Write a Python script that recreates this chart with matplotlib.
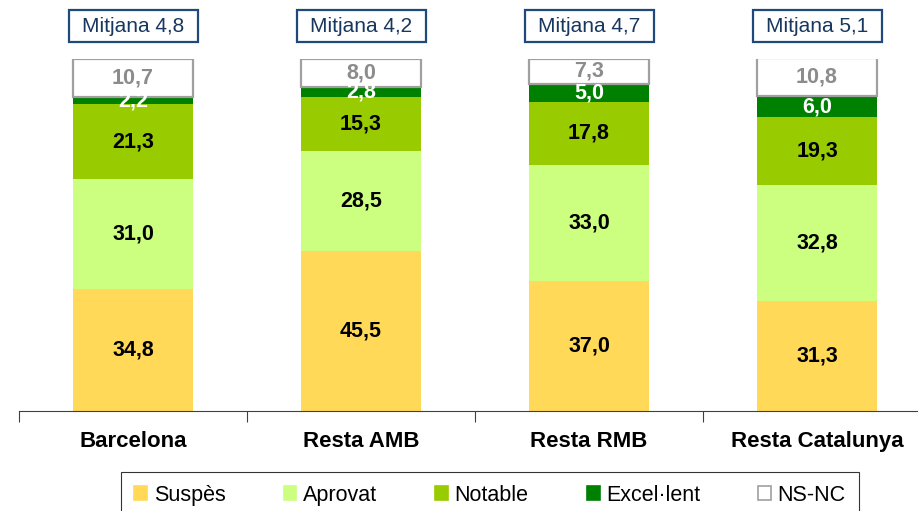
import matplotlib
matplotlib.use("Agg")
import matplotlib.pyplot as plt
from matplotlib.patches import Patch, Rectangle
import matplotlib.transforms as mtransforms

plt.rcParams['font.family'] = ['Liberation Sans', 'DejaVu Sans']

categories = ["Barcelona", "Resta AMB", "Resta RMB", "Resta Catalunya"]
means = ["4,8", "4,2", "4,7", "5,1"]
series_names = ["Suspès", "Aprovat", "Notable", "Excel·lent", "NS-NC"]
suspes = [34.8, 45.5, 37.0, 31.3]
aprovat = [31.0, 28.5, 33.0, 32.8]
notable = [21.3, 15.3, 17.8, 19.3]
excellent = [2.2, 2.8, 5.0, 6.0]
nsnc = [10.7, 8.0, 7.3, 10.8]

series = [suspes, aprovat, notable, excellent, nsnc]
face = ["#FFD957", "#CCFF80", "#99CC00", "#008000", "#FFFFFF"]
edge = ["none", "none", "none", "none", "#A0A0A0"]
txtcol = ["black", "black", "black", "white", "#8C8C8C"]

fig = plt.figure(figsize=(9.18, 5.11), dpi=100)
ax = fig.add_axes([19/918, 1-411/511, (931-19)/918, 352/511])

x = list(range(len(categories)))
bottoms = [0.0]*len(categories)
w = 0.526
for s, vals in enumerate(series):
    ax.bar(x, vals, w, bottom=bottoms, color=face[s], edgecolor=edge[s],
           linewidth=1.6 if s == 4 else 0, zorder=2)
    for i, v in enumerate(vals):
        ax.text(x[i], bottoms[i] + v/2, f"{v:.1f}".replace('.', ','),
                ha='center', va='center', fontsize=15.5, fontweight='bold',
                color=txtcol[s], zorder=5)
    bottoms = [b + v for b, v in zip(bottoms, vals)]

ax.set_xlim(-0.5, 3.5)
ax.set_ylim(0, 100)
for sp in ['top', 'right', 'left']:
    ax.spines[sp].set_visible(False)
ax.spines['bottom'].set_color('#404040')
ax.set_yticks([])
ax.set_xticks([-0.5, 0.5, 1.5, 2.5, 3.5])
ax.set_xticklabels([])
ax.tick_params(axis='x', length=8, color='#404040', direction='out')

trans = mtransforms.blended_transform_factory(ax.transData, fig.transFigure)
bw = 129/228
for i, c in enumerate(categories):
    ax.text(x[i], 1-441/511, c, transform=trans, ha='center', va='center',
            fontsize=16, fontweight='bold', color='black')
    ax.add_patch(Rectangle((x[i]-bw/2, 1-42/511), bw, 32/511, transform=trans,
                           facecolor='white', edgecolor='#1F497D',
                           linewidth=1.6, clip_on=False, zorder=6))
    ax.text(x[i], 1-26/511, f"Mitjana {means[i]}", transform=trans,
            ha='center', va='center', fontsize=15, color='#17375E', zorder=7)

handles = [Patch(facecolor=face[s], edgecolor=('#A0A0A0' if s == 4 else face[s]),
                 linewidth=1.2) for s in range(5)]
leg = fig.legend(handles, series_names, loc='upper center',
                 bbox_to_anchor=(490/918, 1-472/511), ncol=5, frameon=True,
                 fancybox=False, edgecolor='black', fontsize=15.5,
                 handlelength=0.6, handleheight=0.6, handletextpad=0.3,
                 columnspacing=2.7, borderpad=0.6, borderaxespad=0)
leg.get_frame().set_linewidth(0.8)

fig.savefig("out.png", dpi=100)
